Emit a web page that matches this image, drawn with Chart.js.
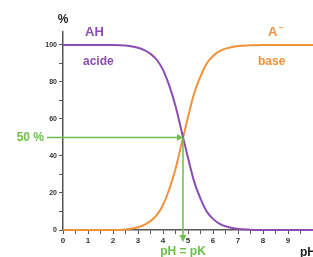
<!DOCTYPE html>
<html>
<head>
<meta charset="utf-8">
<script src="https://cdn.jsdelivr.net/npm/chart.js@4.4.1/dist/chart.umd.min.js"></script>
<style>
  html, body { margin: 0; padding: 0; background: #fff; }
  #wrap { width: 313px; height: 257px; }
</style>
</head>
<body>
<div id="wrap"><canvas id="c"></canvas></div>
<script>
// pH values and percentages
const phValues = [0, 0.5, 1, 1.5, 2, 2.5, 3, 3.25, 3.5, 3.75, 4, 4.25, 4.5, 4.75, 5, 5.25, 5.5, 5.75, 6, 6.25, 6.5, 7, 7.5, 8, 9, 10];
const baseA = [0, 0, 0, 0, 0, 0.3, 1.5, 2.8, 4.8, 8, 13.5, 22, 33, 47, 61, 74, 83, 90, 94, 96.5, 98, 99.4, 99.8, 100, 100, 100];
const acideAH = [100, 100, 100, 100, 100, 99.7, 98.5, 97.2, 95.2, 92, 86.5, 78, 67, 53, 39, 26, 17, 10, 6, 3.5, 2, 0.6, 0.2, 0, 0, 0];
const xTicks = [0, 1, 2, 3, 4, 5, 6, 7, 8, 9];
const yTicks = [0, 20, 40, 60, 80, 100];
const pK = 4.8;
const halfLevel = 50;

const purple = "#8b4db3";
const orange = "#f0923a";
const green = "#6cc04a";

const toPoints = (ys) => phValues.map((x, i) => ({ x: x, y: ys[i] }));

const labelsPlugin = {
    id: "labels",
    afterDraw(chart) {
        const ctx = chart.ctx;
        const xs = chart.scales.x, ys = chart.scales.y;
        const px = xs.getPixelForValue(pK);
        const py = ys.getPixelForValue(halfLevel);
        const y0 = ys.getPixelForValue(0);
        ctx.save();
        // green guide lines
        ctx.strokeStyle = green;
        ctx.fillStyle = green;
        ctx.lineWidth = 1.5;
        ctx.beginPath();
        ctx.moveTo(47, py);
        ctx.lineTo(px - 4, py);
        ctx.moveTo(px, py);
        ctx.lineTo(px, y0 + 7);
        ctx.stroke();
        ctx.beginPath();
        ctx.moveTo(px, py);
        ctx.lineTo(px - 6, py - 3.5);
        ctx.lineTo(px - 6, py + 3.5);
        ctx.fill();
        ctx.beginPath();
        ctx.moveTo(px, y0 + 12);
        ctx.lineTo(px - 3.5, y0 + 5);
        ctx.lineTo(px + 3.5, y0 + 5);
        ctx.fill();

        ctx.textBaseline = "middle";
        ctx.font = "bold 12px 'Liberation Sans', Arial, sans-serif";
        ctx.textAlign = "right";
        ctx.fillText("50 %", 44, py);
        ctx.textAlign = "center";
        ctx.fillText("pH = pK", px, 252);

        ctx.fillStyle = purple;
        ctx.font = "bold 13px 'Liberation Sans', Arial, sans-serif";
        ctx.textAlign = "left";
        ctx.fillText("AH", 85, 32);
        ctx.font = "bold 12px 'Liberation Sans', Arial, sans-serif";
        ctx.fillText("acide", 83, 62);

        ctx.fillStyle = orange;
        ctx.font = "bold 13px 'Liberation Sans', Arial, sans-serif";
        ctx.fillText("A", 268, 32);
        ctx.font = "bold 8px 'Liberation Sans', Arial, sans-serif";
        ctx.fillText("\u2212", 279, 28);
        ctx.font = "bold 12px 'Liberation Sans', Arial, sans-serif";
        ctx.fillText("base", 258, 62);

        ctx.fillStyle = "#222";
        ctx.font = "bold 12px 'Liberation Sans', Arial, sans-serif";
        ctx.textAlign = "center";
        ctx.fillText("%", 63, 20);
        ctx.textAlign = "left";
        ctx.fillText("pH", 300, 253);
        ctx.restore();
    }
};

new Chart(document.getElementById("c"), {
    type: "line",
    data: {
        datasets: [
            { label: "AH", data: toPoints(acideAH), borderColor: purple, borderWidth: 2, pointRadius: 0, cubicInterpolationMode: "monotone", clip: false },
            { label: "A-", data: toPoints(baseA), borderColor: orange, borderWidth: 2, pointRadius: 0, cubicInterpolationMode: "monotone", clip: false }
        ]
    },
    options: {
        responsive: true,
        maintainAspectRatio: false,
        animation: false,
        layout: { padding: { top: 32, right: 0, left: 0, bottom: 0 } },
        plugins: { legend: { display: false }, tooltip: { enabled: false } },
        scales: {
            x: {
                type: "linear",
                min: 0,
                max: 10,
                afterFit(scale) { scale.height = 27; },
                afterBuildTicks(scale) {
                    const t = [];
                    for (let v = 0; v <= 9.5; v += 0.5) t.push({ value: v });
                    scale.ticks = t;
                },
                ticks: {
                    autoSkip: false,
                    maxRotation: 0,
                    padding: 2,
                    color: "#333",
                    font: { size: 8, weight: "bold", family: "'Liberation Sans', Arial" },
                    callback: (v) => xTicks.includes(v) ? String(v) : ""
                },
                grid: { drawOnChartArea: false, tickLength: 4, color: "#555" },
                border: { color: "#555", width: 1.5 }
            },
            y: {
                min: 0,
                max: 107,
                afterFit(scale) { scale.width = 63; },
                afterBuildTicks(scale) {
                    const t = [];
                    for (let v = 0; v <= 100; v += 10) t.push({ value: v });
                    scale.ticks = t;
                },
                ticks: {
                    autoSkip: false,
                    padding: 2,
                    color: "#333",
                    font: { size: 7, weight: "bold", family: "'Liberation Sans', Arial" },
                    callback: (v) => yTicks.includes(v) ? String(v) : ""
                },
                grid: { drawOnChartArea: false, tickLength: 4, color: "#555" },
                border: { color: "#555", width: 1.5 }
            }
        }
    },
    plugins: [labelsPlugin]
});
</script>
</body>
</html>
